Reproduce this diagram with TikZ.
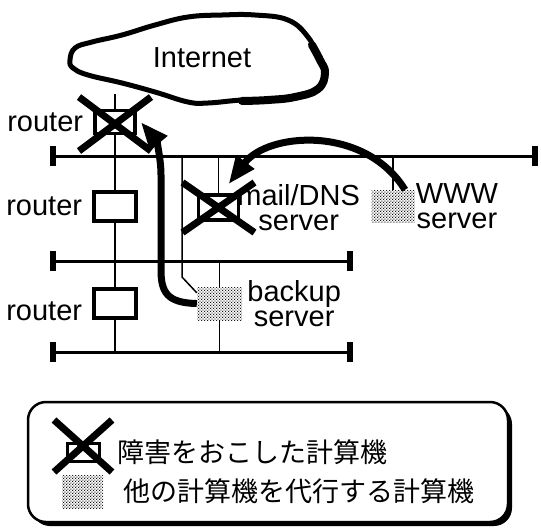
\documentclass[tikz,border=0pt]{standalone}
\usepackage{fontspec}
\setmainfont{Liberation Sans}
\newfontfamily\jafont{Noto Sans CJK JP}
\usetikzlibrary{arrows.meta, backgrounds, patterns, positioning, shadows}

\pgfdeclarepatternformonly{ckdots}{\pgfpointorigin}{\pgfpoint{3.2pt}{3.2pt}}{\pgfpoint{3.2pt}{3.2pt}}{
  \pgfpathcircle{\pgfpoint{0.8pt}{0.8pt}}{0.8pt}
  \pgfpathcircle{\pgfpoint{2.4pt}{2.4pt}}{0.8pt}
  \pgfusepath{fill}
}

\begin{document}
\begin{tikzpicture}[x=1pt,y=-1pt,font=\fontsize{29}{25}\selectfont]
  \tikzstyle{bus}=[line width=3pt,{Bar[width=20pt,line width=6pt]}-{Bar[width=20pt,line width=6pt]}]
  \tikzstyle{link}=[line width=1.5pt]
  \tikzstyle{host}=[draw,line width=3.5pt,fill=white,inner sep=0pt,minimum width=42pt,minimum height=29pt]
  \tikzstyle{standin}=[inner sep=0pt,minimum width=44pt,minimum height=33pt,preaction={fill=white},pattern=ckdots]
  \tikzstyle{xmark}=[line width=7pt]
  \tikzstyle{takeover}=[line width=7pt,-{Triangle[length=28pt,width=21pt]}]
  \tikzstyle{lbl}=[inner sep=0pt,align=center]

  \useasboundingbox (0,0) rectangle (541,528);

  % the Internet
  \draw[line width=5pt] plot[smooth cycle,tension=0.7] coordinates {(70,60) (75,48) (92,42) (122,35) (155,25) (188,17) (222,15) (255,15) (288,20) (308,37) (318,57) (325,73) (318,90) (295,97) (268,100) (242,100) (208,103) (188,102) (155,92) (122,83) (88,75) (73,68)};
  \draw[line width=8pt,line cap=round] plot[smooth,tension=0.7] coordinates {(312,45) (320,60) (325,73) (318,89) (295,97) (268,100) (242,101)};
  \node (net) at (202,58) {Internet};
  \coordinate (netfoot) at (115,94);

  % buses
  \coordinate (b1w) at (50,156);  \coordinate (b1e) at (538,156);
  \coordinate (b2w) at (50,261);  \coordinate (b2e) at (353,261);
  \coordinate (b3w) at (50,352);  \coordinate (b3e) at (353,352);
  \draw[bus] (b1w) -- (b1e);
  \draw[bus] (b2w) -- (b2e);
  \draw[bus] (b3w) -- (b3e);

  % machines
  \node[host,minimum width=40pt,minimum height=23pt] (r1)   at (115,122)     {};
  \node[host]                                        (r2)   at (115,206.5)   {};
  \node[host]                                        (r3)   at (115,303.5)   {};
  \node[host,minimum width=40pt,minimum height=25pt] (mail) at (218.5,207.5) {};
  \node[standin,minimum width=43pt,minimum height=32pt] (www) at (393,206)   {};
  \node[standin,minimum width=45pt]                  (bk)   at (219.5,303.5) {};
  \coordinate (tap) at (182,277);

  \node[lbl] (r1l)   [left=10pt of r1]             {router};
  \node[lbl] (r2l)   [left=10pt of r2]             {router};
  \node[lbl] (r3l)   [left=10pt of r3,yshift=-8pt] {router};
  \node[lbl] (maill) [right=-3pt of mail]          {mail/DNS\\server};
  \node[lbl] (wwwl)  [right=1pt of www]            {WWW\\server};
  \node[lbl] (bkl)   [right=5pt of bk]             {backup\\server};

  \begin{scope}[on background layer]
    \draw[link] (netfoot) -- (netfoot |- b3w);
    \draw[link] (mail.north) -- (mail.north |- b1w);
    \draw[link] (www.north) -- (www.north |- b1w);
    \draw[link] (bk.north |- b2w) -- (bk.south |- b3w);
    \draw[link] (tap |- b1w) -- (tap) -- ([yshift=-6pt]bk.north west);
  \end{scope}

  % legend
  \node[draw,line width=2.5pt,rounded corners=18pt,fill=white,minimum width=480pt,minimum height=120pt,
        drop shadow={shadow xshift=4pt,shadow yshift=-4pt,fill=black,opacity=1}] (key) at (268,462) {};
  \node[host,line width=3pt,minimum width=32pt,minimum height=18pt] (keyx) at (83,452)   {};
  \node[standin,minimum width=41pt]                                 (keyd) at (82.5,491.5) {};
  \node[lbl,font=\jafont\fontsize{27}{27}\selectfont] (keyxl) [right=17pt of keyx] {障害をおこした計算機};
  \node[lbl,font=\jafont\fontsize{27}{27}\selectfont] (keydl) [right=20pt of keyd] {他の計算機を代行する計算機};

  % failed machines
  \foreach \n/\dx/\dy/\oy in {r1/36/27/2, mail/36/25/0, keyx/29/26/-6}
    \draw[xmark] ([shift={(-\dx,{\oy-\dy})}]\n.center) -- ([shift={(\dx,{\oy+\dy})}]\n.center)
                 ([shift={(-\dx,{\oy+\dy})}]\n.center) -- ([shift={(\dx,{\oy-\dy})}]\n.center);

  % take-over arrows
  \draw[takeover] (bk.west) .. controls (167,303) and (161,292) .. (161,270) -- (161,175)
                  .. controls (161,158) and (156,140) .. ([xshift=4pt]r1.east);
  \draw[takeover] ([xshift=12pt]www.north) .. controls (365,125) and (268,132) .. ([xshift=10pt,yshift=9pt]mail.north);
\end{tikzpicture}
\end{document}
